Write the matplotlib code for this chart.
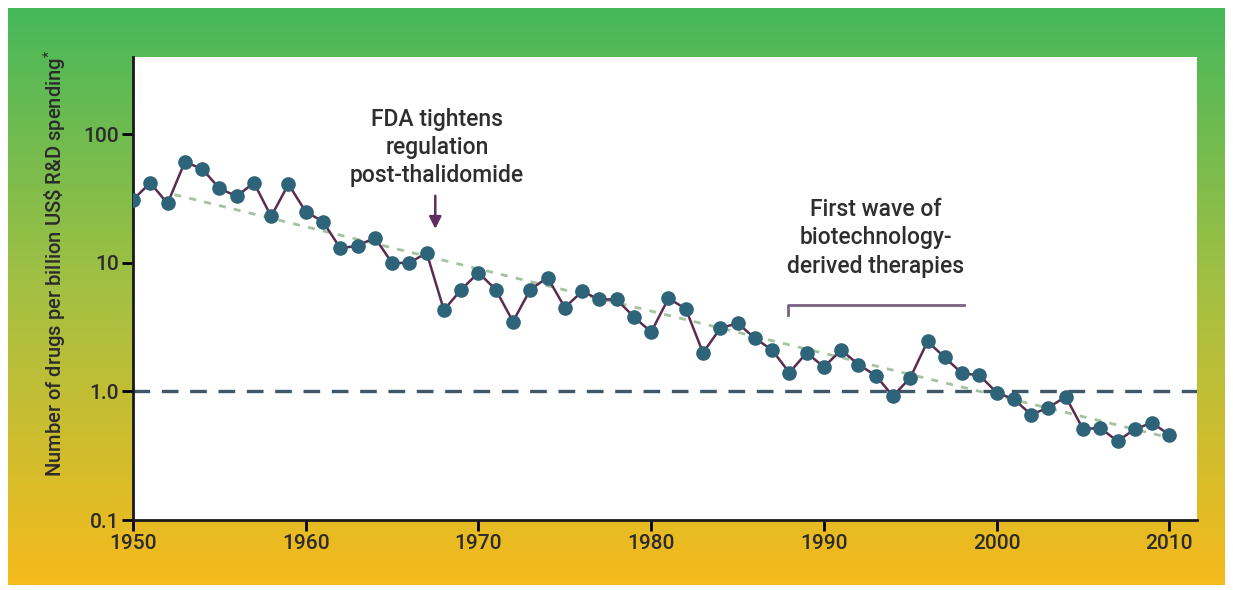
import numpy as np
import matplotlib
matplotlib.use('Agg')
import matplotlib.pyplot as plt
from matplotlib.colors import LinearSegmentedColormap

# datos (farmacos por mil millones US$ de I+D)
anios = list(range(1950, 2011))
farmacos = [31, 42, 29, 61, 54, 38, 33, 42, 23, 41,
            25, 21, 13, 13.6, 15.7, 10, 10, 12, 4.3, 6.2,
            8.4, 6.2, 3.5, 6.2, 7.7, 4.5, 6.0, 5.2, 5.2, 3.8,
            2.9, 5.3, 4.4, 2.0, 3.1, 3.4, 2.6, 2.1, 1.4, 2.0,
            1.55, 2.1, 1.62, 1.33, 0.92, 1.28, 2.45, 1.84, 1.38, 1.34,
            0.98, 0.87, 0.66, 0.75, 0.91, 0.51, 0.52, 0.41, 0.51, 0.57,
            0.46]

tendencia_anios = [1952.4, 2010.2]
tendencia_valores = [34, 0.43]

yticks = [0.1, 1, 10, 100]
ytick_labels = ['0.1', '1.0', '10', '100']
xticks = [1950, 1960, 1970, 1980, 1990, 2000, 2010]

plt.rcParams['font.family'] = ['Roboto', 'DejaVu Sans']
plt.rcParams['mathtext.fontset'] = 'custom'
plt.rcParams['mathtext.rm'] = 'Roboto'

fig = plt.figure(figsize=(12.33, 5.9), dpi=100)
fig.patch.set_facecolor('white')

# fondo con degradado verde -> amarillo
ax_bg = fig.add_axes([8/1233, 5/590, 1217/1233, 577/590])
cmap = LinearSegmentedColormap.from_list('fondo', ['#46b85a', '#a6c042', '#f6ba1c'])
grad = np.linspace(0, 1, 256).reshape(-1, 1)
ax_bg.imshow(grad, aspect='auto', cmap=cmap, extent=[0, 1, 0, 1], origin='upper')
ax_bg.set_axis_off()

ax = fig.add_axes([133/1233, 70/590, 1064/1233, 463/590])
ax.set_facecolor('white')
ax.set_yscale('log')
ax.set_xlim(1950, 2011.6)
ax.set_ylim(0.1, 400)

ax.axhline(1.0, color='#3e5868', lw=2.4, dashes=(5, 3.5), zorder=2)
ax.plot(tendencia_anios, tendencia_valores, color='#a3c29e', lw=2, dashes=(2.5, 3), zorder=3)
ax.plot(anios, farmacos, color='#5b2c4f', lw=1.8, zorder=4)
ax.plot(anios, farmacos, 'o', color='#2d6479', markersize=9.5, zorder=5)

# anotaciones
ax.text(1967.6, 79, 'FDA tightens\nregulation\npost-thalidomide', ha='center', va='center',
        fontsize=16.5, color='#2e2e2e', linespacing=1.3, fontweight='medium')
ax.annotate('', xy=(1967.5, 17.5), xytext=(1967.5, 35),
            arrowprops=dict(arrowstyle='-|>', color='#5e2f5e', lw=1.8, mutation_scale=18))
ax.text(1993.0, 15.7, 'First wave of\nbiotechnology-\nderived therapies', ha='center', va='center',
        fontsize=16.5, color='#2e2e2e', linespacing=1.3, fontweight='medium')
ax.plot([1987.9, 1987.9, 1998.1], [3.9, 4.74, 4.74], color='#7c5f82', lw=2)

ax.set_yticks(yticks)
ax.set_yticklabels(ytick_labels)
ax.minorticks_off()
ax.set_xticks(xticks)
ax.tick_params(axis='both', direction='out', length=8, width=2, labelsize=15,
               labelcolor='#2b2b2b', pad=2)
for lbl in ax.get_xticklabels() + ax.get_yticklabels():
    lbl.set_fontweight('medium')
for lado in ['top', 'right']:
    ax.spines[lado].set_visible(False)
for lado in ['left', 'bottom']:
    ax.spines[lado].set_linewidth(2)
    ax.spines[lado].set_color('#1a1a1a')

fig.text(55/1233, 1 - 263/590, r'Number of drugs per billion US\$ R&D spending$^{*}$',
         rotation=90, ha='center', va='center', fontsize=14.5, color='#2b2b2b',
         fontweight='medium')

plt.savefig('out.png', dpi=100)
